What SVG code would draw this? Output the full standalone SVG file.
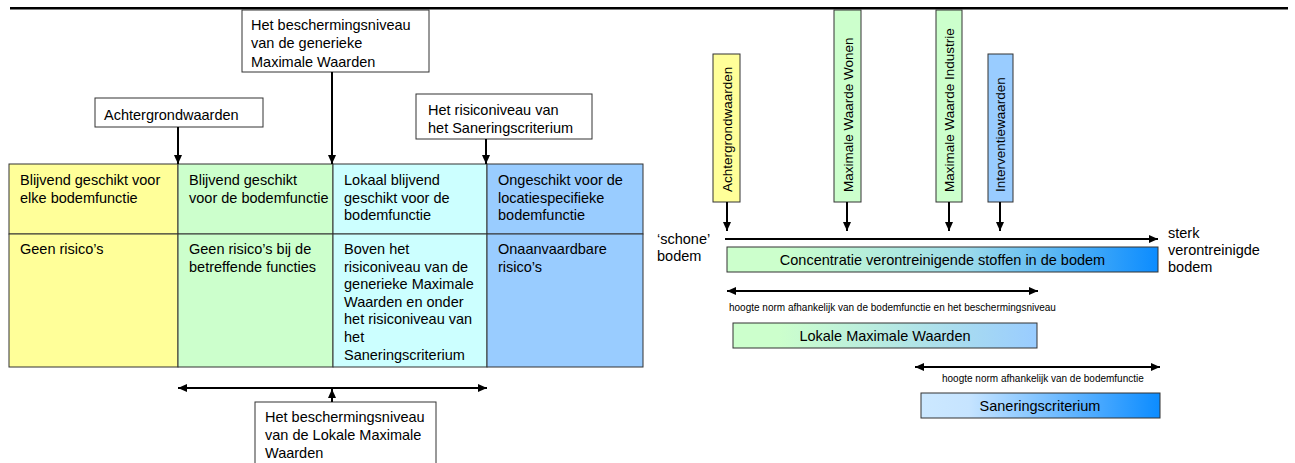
<svg xmlns="http://www.w3.org/2000/svg" width="1295" height="463" viewBox="0 0 1295 463">
<style>
text{font-family:"Liberation Sans",Arial,sans-serif;fill:#000}
.t{font-size:14.5px}
.v{font-size:13.5px}
.s{font-size:10px}
.box{fill:#fff;stroke:#333;stroke-width:1}
.cell{stroke:#333;stroke-width:1}
.bar{stroke:#333;stroke-width:1}
.arr{stroke:#000;stroke-width:2;fill:none}
</style>
<defs>
<marker id="ah" markerUnits="userSpaceOnUse" markerWidth="10" markerHeight="10" refX="9" refY="4" orient="auto-start-reverse">
<path d="M0,0 L9,4 L0,8 z" fill="#000"/>
</marker>
<linearGradient id="gConc" x1="0" y1="0" x2="1" y2="0">
<stop offset="0" stop-color="#CCFFCC"/>
<stop offset="0.12" stop-color="#CCFFCC"/>
<stop offset="0.55" stop-color="#9EDCEA"/>
<stop offset="1" stop-color="#0C8CFF"/>
</linearGradient>
<linearGradient id="gLok" x1="0" y1="0" x2="1" y2="0">
<stop offset="0" stop-color="#CCFFCC"/>
<stop offset="0.15" stop-color="#CCFFCC"/>
<stop offset="1" stop-color="#99CCFF"/>
</linearGradient>
<linearGradient id="gSan" x1="0" y1="0" x2="1" y2="0">
<stop offset="0" stop-color="#CCE8FF"/>
<stop offset="0.2" stop-color="#C6E4FF"/>
<stop offset="1" stop-color="#0C8CFF"/>
</linearGradient>
</defs>

<line x1="10" y1="8.2" x2="1288" y2="8.2" stroke="#000" stroke-width="2.5"/>

<g id="table">
<rect class="cell" x="9" y="164" width="169" height="70" fill="#FFFF99"/>
<rect class="cell" x="178" y="164" width="155" height="70" fill="#CCFFCC"/>
<rect class="cell" x="333" y="164" width="154" height="70" fill="#CCFFFF"/>
<rect class="cell" x="487" y="164" width="156" height="70" fill="#99CCFF"/>
<rect class="cell" x="9" y="234" width="169" height="133" fill="#FFFF99"/>
<rect class="cell" x="178" y="234" width="155" height="133" fill="#CCFFCC"/>
<rect class="cell" x="333" y="234" width="154" height="133" fill="#CCFFFF"/>
<rect class="cell" x="487" y="234" width="156" height="133" fill="#99CCFF"/>
<text class="t"><tspan x="20" y="185">Blijvend geschikt voor</tspan><tspan x="20" y="202.5">elke bodemfunctie</tspan></text>
<text class="t"><tspan x="189" y="185">Blijvend geschikt</tspan><tspan x="189" y="202.5">voor de bodemfunctie</tspan></text>
<text class="t"><tspan x="344" y="185">Lokaal blijvend</tspan><tspan x="344" y="202.5">geschikt voor de</tspan><tspan x="344" y="220">bodemfunctie</tspan></text>
<text class="t"><tspan x="498" y="185">Ongeschikt voor de</tspan><tspan x="498" y="202.5">locatiespecifieke</tspan><tspan x="498" y="220">bodemfunctie</tspan></text>
<text class="t"><tspan x="20" y="254">Geen risico’s</tspan></text>
<text class="t"><tspan x="189" y="254">Geen risico’s bij de</tspan><tspan x="189" y="271.6">betreffende functies</tspan></text>
<text class="t"><tspan x="344" y="254">Boven het</tspan><tspan x="344" y="271.6">risiconiveau van de</tspan><tspan x="344" y="289.2">generieke Maximale</tspan><tspan x="344" y="306.8">Waarden en onder</tspan><tspan x="344" y="324.4">het risiconiveau van</tspan><tspan x="344" y="342">het</tspan><tspan x="344" y="359.6">Saneringscriterium</tspan></text>
<text class="t"><tspan x="498" y="254">Onaanvaardbare</tspan><tspan x="498" y="271.6">risico’s</tspan></text>
</g>

<g id="generiek">
<rect class="box" x="242" y="10" width="187" height="62"/>
<text class="t"><tspan x="251" y="30">Het beschermingsniveau</tspan><tspan x="251" y="48.3">van de generieke</tspan><tspan x="251" y="66.6">Maximale Waarden</tspan></text>
</g>
<g id="achtergrond">
<rect class="box" x="95" y="98" width="168" height="29"/>
<text class="t" x="104" y="120">Achtergrondwaarden</text>
</g>
<g id="risico">
<rect class="box" x="416" y="94" width="176" height="45"/>
<text class="t"><tspan x="428" y="115">Het risiconiveau van</tspan><tspan x="428" y="133">het Saneringscriterium</tspan></text>
</g>
<g id="lokaal">
<rect class="box" x="255" y="402" width="181" height="70"/>
<text class="t"><tspan x="265" y="422">Het beschermingsniveau</tspan><tspan x="265" y="440">van de Lokale Maximale</tspan><tspan x="265" y="458">Waarden</tspan></text>
</g>

<g id="v-achtergrond">
<rect class="bar" x="713" y="54" width="27" height="148" fill="#FFFF99"/>
<text class="v" transform="translate(731.5,192) rotate(-90)">Achtergrondwaarden</text>
</g>
<g id="v-wonen">
<rect class="bar" x="834" y="10" width="27" height="192" fill="#CCFFCC"/>
<text class="v" transform="translate(852.5,192) rotate(-90)">Maximale Waarde Wonen</text>
</g>
<g id="v-industrie">
<rect class="bar" x="936" y="10" width="26" height="192" fill="#CCFFCC"/>
<text class="v" transform="translate(954,192) rotate(-90)">Maximale Waarde Industrie</text>
</g>
<g id="v-interventie">
<rect class="bar" x="988" y="54" width="25" height="148" fill="#99CCFF"/>
<text class="v" transform="translate(1005,192) rotate(-90)">Interventiewaarden</text>
</g>

<g id="schone">
<text class="t"><tspan x="657" y="244">‘schone’</tspan><tspan x="657" y="261">bodem</tspan></text>
</g>
<g id="sterk">
<text class="t"><tspan x="1168" y="238">sterk</tspan><tspan x="1168" y="255">verontreinigde</tspan><tspan x="1168" y="272">bodem</tspan></text>
</g>
<g id="concentratie">
<rect class="bar" x="727" y="247" width="431" height="25" fill="url(#gConc)"/>
<text class="t" x="942.5" y="264.5" text-anchor="middle">Concentratie verontreinigende stoffen in de bodem</text>
</g>
<g id="label1">
<text class="s" x="729" y="311">hoogte norm afhankelijk van de bodemfunctie en het beschermingsniveau</text>
</g>
<g id="lmw">
<rect class="bar" x="733" y="323" width="304" height="25" fill="url(#gLok)"/>
<text class="t" x="885" y="340.5" text-anchor="middle">Lokale Maximale Waarden</text>
</g>
<g id="label2">
<text class="s" x="942" y="382">hoogte norm afhankelijk van de bodemfunctie</text>
</g>
<g id="sc">
<rect class="bar" x="921" y="393" width="239" height="25" fill="url(#gSan)"/>
<text class="t" x="1040" y="410.5" text-anchor="middle">Saneringscriterium</text>
</g>

<g id="connectors">
<line class="arr" x1="332" y1="72" x2="332" y2="164" marker-end="url(#ah)"/>
<line class="arr" x1="178" y1="127" x2="178" y2="164" marker-end="url(#ah)"/>
<line class="arr" x1="486" y1="139" x2="486" y2="164" marker-end="url(#ah)"/>
<line class="arr" x1="178" y1="388" x2="487" y2="388" marker-start="url(#ah)" marker-end="url(#ah)"/>
<line class="arr" x1="332" y1="402" x2="332" y2="389" marker-end="url(#ah)"/>
<line class="arr" x1="727" y1="202" x2="727" y2="231" marker-end="url(#ah)"/>
<line class="arr" x1="847" y1="202" x2="847" y2="231" marker-end="url(#ah)"/>
<line class="arr" x1="949" y1="202" x2="949" y2="231" marker-end="url(#ah)"/>
<line class="arr" x1="1000" y1="202" x2="1000" y2="231" marker-end="url(#ah)"/>
<line class="arr" x1="725" y1="239" x2="1158" y2="239" marker-end="url(#ah)"/>
<line class="arr" x1="727" y1="291" x2="1038" y2="291" marker-start="url(#ah)" marker-end="url(#ah)"/>
<line class="arr" x1="915" y1="367" x2="1160" y2="367" marker-start="url(#ah)" marker-end="url(#ah)"/>
</g>
</svg>
